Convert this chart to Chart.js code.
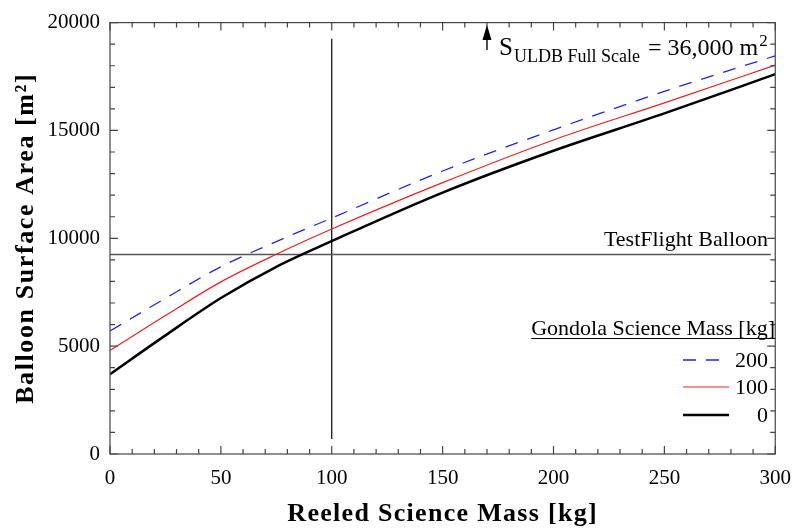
<!DOCTYPE html>
<html>
<head>
<meta charset="utf-8">
<script src="https://cdn.jsdelivr.net/npm/chart.js@4"></script>
<style>
  html, body { margin: 0; padding: 0; background: #fff; }
  #wrap { width: 803px; height: 529px; position: relative; }
</style>
</head>
<body>
<div id="wrap"><canvas id="c" width="803" height="529"></canvas></div>
<script>
// reeled science mass [kg]
const massX = [0, 25, 50, 75, 100, 150, 200, 250, 300];
// balloon surface area [m2] for each gondola science mass
const area200 = [5700, 7220, 8680, 9850, 10940, 13120, 15030, 16810, 18460];
const area100 = [4800, 6420, 7980, 9260, 10430, 12580, 14560, 16280, 18030];
const area0   = [3700, 5500, 7230, 8680, 9870, 12120, 14060, 15790, 17610];

const testFlightX = [0, 298];
const testFlightY = [9250, 9250];
const markerX = [100, 100];
const markerY = [700, 19250];

const xTicks = [0, 50, 100, 150, 200, 250, 300];
const yTicks = [0, 5000, 10000, 15000, 20000];

const legendNames = ['200', '100', '0'];
const SERIF = '"Liberation Serif", "DejaVu Serif", serif';

function pts(xs, ys) { return xs.map((x, i) => ({ x: x, y: ys[i] })); }

// frame, inward ticks, titles, legend, annotation
const decor = {
    id: 'decor',
    afterDraw(chart) {
        const ctx = chart.ctx;
        const xs = chart.scales.x, ys = chart.scales.y;
        const a = chart.chartArea;
        ctx.save();
        ctx.strokeStyle = '#444';
        ctx.lineWidth = 1.2;
        ctx.strokeRect(a.left, a.top, a.right - a.left, a.bottom - a.top);

        for (let v = 0; v <= 300; v += 10) {
            const p = xs.getPixelForValue(v);
            const len = v % 50 === 0 ? 8 : 5;
            ctx.beginPath();
            ctx.moveTo(p, a.bottom); ctx.lineTo(p, a.bottom - len);
            ctx.moveTo(p, a.top); ctx.lineTo(p, a.top + len);
            ctx.stroke();
        }
        for (let v = 0; v <= 20000; v += 1000) {
            const p = ys.getPixelForValue(v);
            const len = v % 5000 === 0 ? 8 : 5;
            ctx.beginPath();
            ctx.moveTo(a.left, p); ctx.lineTo(a.left + len, p);
            ctx.moveTo(a.right, p); ctx.lineTo(a.right - len, p);
            ctx.stroke();
        }

        // axis titles
        ctx.fillStyle = '#000';
        ctx.font = 'bold 26px ' + SERIF;
        ctx.textAlign = 'center';
        ctx.textBaseline = 'alphabetic';
        ctx.letterSpacing = '1.3px';
        ctx.fillText('Reeled Science Mass [kg]', (a.left + a.right) / 2, 521);
        ctx.save();
        ctx.translate(33, (a.top + a.bottom) / 2);
        ctx.rotate(-Math.PI / 2);
        ctx.letterSpacing = '1.6px';
        ctx.fillText('Balloon Surface Area [m²]', 0, 0);
        ctx.restore();
        ctx.letterSpacing = '0px';

        // test flight label
        ctx.font = '22px ' + SERIF;
        ctx.textAlign = 'right';
        ctx.fillText('TestFlight Balloon', 768, 246);

        // full scale annotation
        const ax = xs.getPixelForValue(170);
        ctx.strokeStyle = '#000';
        ctx.lineWidth = 1.4;
        ctx.beginPath(); ctx.moveTo(ax, 38); ctx.lineTo(ax, 50); ctx.stroke();
        ctx.beginPath();
        ctx.moveTo(ax, 25); ctx.lineTo(ax - 4.5, 40); ctx.lineTo(ax + 4.5, 40);
        ctx.closePath(); ctx.fill();
        ctx.textAlign = 'left';
        ctx.font = '25px ' + SERIF;
        ctx.fillText('S', 499, 55);
        ctx.font = '18px ' + SERIF;
        ctx.fillText('ULDB Full Scale', 514, 62);
        ctx.font = '24px ' + SERIF;
        ctx.fillText('= 36,000 m', 648, 55);
        const w = ctx.measureText('= 36,000 m').width;
        ctx.font = '17px ' + SERIF;
        ctx.fillText('2', 648 + w + 1, 46);

        // legend
        ctx.font = '22px ' + SERIF;
        ctx.textAlign = 'right';
        ctx.fillText('Gondola Science Mass [kg]', 775, 335);
        const tw = ctx.measureText('Gondola Science Mass [kg]').width;
        ctx.lineWidth = 1;
        ctx.beginPath(); ctx.moveTo(775 - tw, 338.5); ctx.lineTo(775, 338.5); ctx.stroke();
        const rows = [360, 387, 415];
        chart.data.datasets.slice(0, 3).forEach((ds, i) => {
            ctx.strokeStyle = ds.borderColor;
            ctx.lineWidth = ds.borderWidth;
            ctx.setLineDash(ds.borderDash || []);
            ctx.beginPath(); ctx.moveTo(683, rows[i]); ctx.lineTo(729, rows[i]); ctx.stroke();
            ctx.setLineDash([]);
            ctx.fillText(legendNames[i], 768, rows[i] + 7);
        });
        ctx.restore();
    }
};

new Chart(document.getElementById('c'), {
    type: 'scatter',
    data: {
        datasets: [
            { label: '200', data: pts(massX, area200), borderColor: '#2222ee', borderWidth: 1.3, borderDash: [13, 10], showLine: true, pointRadius: 0, cubicInterpolationMode: 'monotone' },
            { label: '100', data: pts(massX, area100), borderColor: '#ee2020', borderWidth: 1.2, showLine: true, pointRadius: 0, cubicInterpolationMode: 'monotone' },
            { label: '0', data: pts(massX, area0), borderColor: '#000', borderWidth: 2.5, showLine: true, pointRadius: 0, cubicInterpolationMode: 'monotone' },
            { label: 'TestFlight', data: pts(testFlightX, testFlightY), borderColor: '#555', borderWidth: 1.6, showLine: true, pointRadius: 0 },
            { label: 'marker', data: pts(markerX, markerY), borderColor: '#000', borderWidth: 1.2, showLine: true, pointRadius: 0 }
        ]
    },
    options: {
        responsive: false,
        animation: false,
        layout: { padding: { top: 17, right: 17, left: 0, bottom: 0 } },
        plugins: { legend: { display: false }, tooltip: { enabled: false } },
        scales: {
            x: {
                type: 'linear', min: 0, max: 300,
                afterBuildTicks: s => { s.ticks = xTicks.map(v => ({ value: v })); },
                afterFit: s => { s.height = 75; },
                grid: { display: false, drawTicks: false },
                border: { display: false },
                ticks: { color: '#000', padding: 12, maxRotation: 0, callback: v => String(v), font: { family: SERIF, size: 21 } }
            },
            y: {
                type: 'linear', min: 0, max: 20000,
                afterBuildTicks: s => { s.ticks = yTicks.map(v => ({ value: v })); },
                afterFit: s => { s.width = 110; },
                grid: { display: false, drawTicks: false },
                border: { display: false },
                ticks: { color: '#000', padding: 10, callback: v => String(v), font: { family: SERIF, size: 21 } }
            }
        }
    },
    plugins: [decor]
});
</script>
</body>
</html>
